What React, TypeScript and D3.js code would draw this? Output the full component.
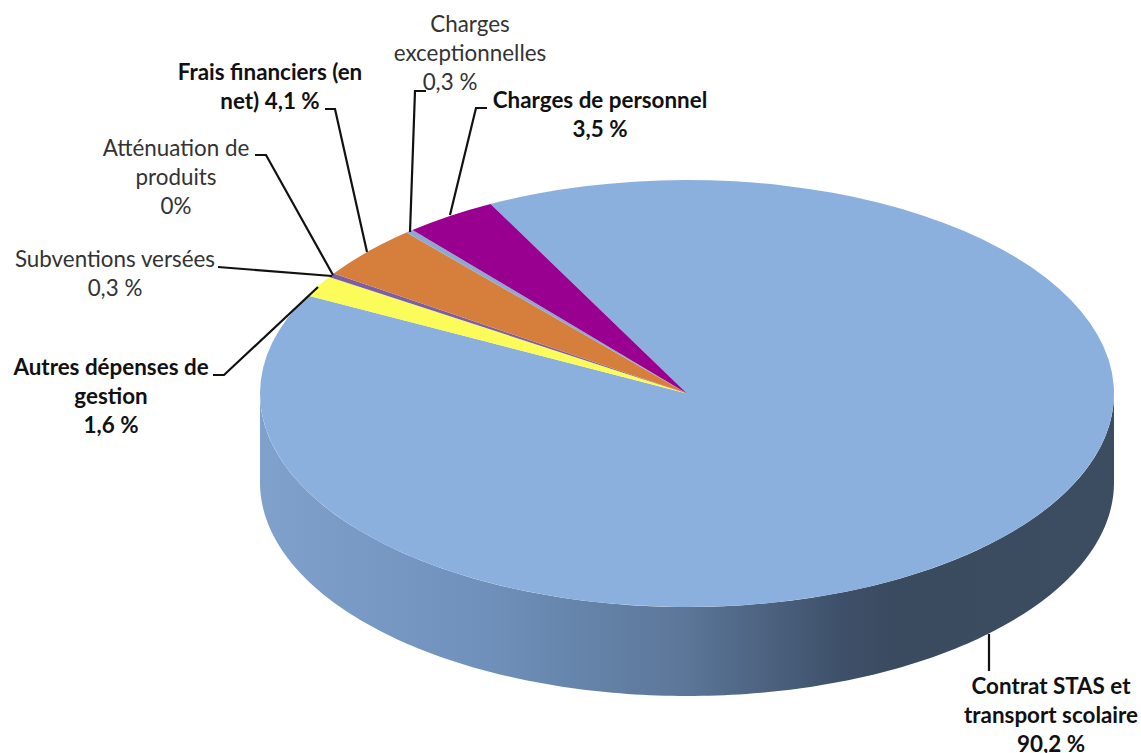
import React from "react";
import * as d3 from "d3";

const W = 1141, H = 753;
const categories = ["Contrat STAS et transport scolaire", "Autres dépenses de gestion", "Subventions versées", "Atténuation de produits", "Frais financiers (en net)", "Charges exceptionnelles", "Charges de personnel"];
const values = [90.2, 1.6, 0.3, 0, 4.1, 0.3, 3.5];
const colors = ["#8bb0de", "#fbfb5a", "#7b5ea7", "#4bacc6", "#d67f3c", "#8fa8d0", "#990090"];

type Lab = { lines: string[]; x: number[]; y: number; bold: boolean; leader: [number, number][] };
const labels: Lab[] = [
  { lines: ["Contrat STAS et", "transport scolaire", "90,2 %"], x: [1051, 1051, 1051], y: 694, bold: true, leader: [[989, 634], [989, 671]] },
  { lines: ["Autres dépenses de", "gestion", "1,6 %"], x: [111, 111, 111], y: 375, bold: true, leader: [[213, 375], [224, 375], [318, 287]] },
  { lines: ["Subventions versées", "0,3 %"], x: [115, 115], y: 267, bold: false, leader: [[218, 267], [332, 276]] },
  { lines: ["Atténuation de", "produits", "0%"], x: [176, 176, 176], y: 156, bold: false, leader: [[255, 155], [266, 155], [333, 275]] },
  { lines: ["Frais financiers (en", "net) 4,1 %"], x: [270, 270], y: 80, bold: true, leader: [[325, 109], [335, 109], [367, 252]] },
  { lines: ["Charges", "exceptionnelles", "0,3 %"], x: [470, 470, 450], y: 32, bold: false, leader: [[426, 91], [415, 91], [410, 232]] },
  { lines: ["Charges de personnel", "3,5 %"], x: [600, 600], y: 108, bold: true, leader: [[487, 108], [476, 108], [450, 215]] },
];

const cx = 687, cy = 393.5, rx = 427, ry = 213.5, depth = 89;
const startDeg = -27.4;

export default function App() {
  const pie = d3.pie<number>().sort(null).startAngle((startDeg * Math.PI) / 180).endAngle(((startDeg + 360) * Math.PI) / 180);
  const arcs = pie(values);
  const arc = d3.arc<d3.PieArcDatum<number>>().innerRadius(0).outerRadius(rx);
  const px = d3.scaleLinear().domain([-1, 1]).range([cx - rx, cx + rx]);
  const py = d3.scaleLinear().domain([-1, 1]).range([cy - ry, cy + ry]);
  const thetas = d3.range(0, 181).map((d) => (d * Math.PI) / 180);
  const wall = d3.area<number>().x((t) => px(Math.cos(t))).y0((t) => py(Math.sin(t))).y1((t) => py(Math.sin(t)) + depth).curve(d3.curveLinear);
  return (
    <svg width={W} height={H} style={{ position: "absolute", left: 0, top: 0, background: "#fff" }}>
      <defs>
        <linearGradient id="side" x1="0" x2="1" y1="0" y2="0">
          <stop offset="0" stopColor="#7fa1cc" />
          <stop offset="0.27" stopColor="#6f90ba" />
          <stop offset="0.5" stopColor="#5b7698" />
          <stop offset="0.68" stopColor="#3e5069" />
          <stop offset="0.75" stopColor="#3a4a5f" />
          <stop offset="1" stopColor="#3c4c61" />
        </linearGradient>
      </defs>
      <path d={wall(thetas) || ""} fill="url(#side)" />
      <g transform={`translate(${cx},${cy}) scale(1,${ry / rx})`}>
        {arcs.map((a, i) => (a.value > 0 ? <path key={categories[i]} d={arc(a) || ""} fill={colors[i]} /> : null))}
      </g>
      {labels.map((l) => (
        <path key={l.lines[0]} d={d3.line()(l.leader) || ""} fill="none" stroke="#111" strokeWidth={2.2} />
      ))}
      {labels.map((l) => (
        <text key={l.lines[0]} fontFamily="Lato, sans-serif" fontSize={22.4} fontWeight={l.bold ? 700 : 400} fill={l.bold ? "#111" : "#333"} textAnchor="middle">
          {l.lines.map((t, i) => (
            <tspan key={i} x={l.x[i]} y={l.y + i * 29}>{t}</tspan>
          ))}
        </text>
      ))}
    </svg>
  );
}
